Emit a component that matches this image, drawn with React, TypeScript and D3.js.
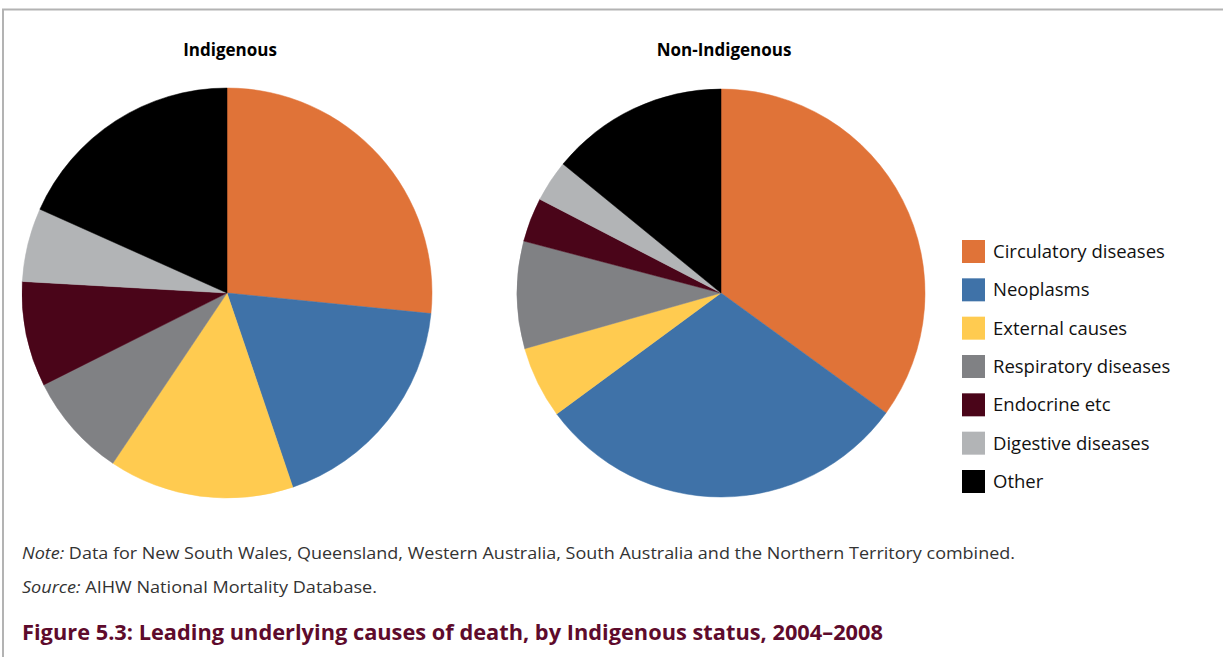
import React from "react";
import * as d3 from "d3";

const categories = [
  "Circulatory diseases",
  "Neoplasms",
  "External causes",
  "Respiratory diseases",
  "Endocrine etc",
  "Digestive diseases",
  "Other",
];
const colors = ["#E07338", "#3F72A8", "#FFCB50", "#808184", "#4A0519", "#B2B4B6", "#000000"];
const indigenousValues = [26.6, 18.2, 14.6, 8.2, 8.3, 5.8, 18.3];
const nonIndigenousValues = [35.0, 29.9, 5.7, 8.5, 3.5, 3.3, 14.1];
const panelTitles = ["Indigenous", "Non-Indigenous"];

const FONT = "'Open Sans', 'Noto Sans', sans-serif";

function Pie({ values, cx, cy, r, title }: { values: number[]; cx: number; cy: number; r: number; title: string }) {
  const pie = d3.pie<number>().sort(null).value((d) => d);
  const arc = d3.arc<d3.PieArcDatum<number>>().innerRadius(0).outerRadius(r);
  const arcs = pie(values);
  return (
    <g>
      <text x={cx + 3} y={56} textAnchor="middle" fontFamily={FONT} fontWeight={700} fontSize={17} fill="#000">
        {title}
      </text>
      <g transform={`translate(${cx},${cy})`}>
        {arcs.map((a, i) => (
          <path key={i} d={arc(a) || ""} fill={colors[i]} stroke={colors[i]} strokeWidth={0.5} />
        ))}
      </g>
    </g>
  );
}

export default function App() {
  const W = 1223;
  const H = 657;
  const legendY = d3.scaleLinear().domain([0, 6]).range([240, 470]);
  return (
    <svg width={W} height={H} style={{ position: "absolute", left: 0, top: 0, background: "#fff" }}>
      <rect x={0} y={0} width={W} height={H} fill="#fff" />
      <path d={`M3,${H} L3,9.5 L${W},9.5`} fill="none" stroke="#b3b3b3" strokeWidth={2} />
      <Pie values={indigenousValues} cx={227} cy={293} r={205} title={panelTitles[0]} />
      <Pie values={nonIndigenousValues} cx={721} cy={293} r={204} title={panelTitles[1]} />
      {categories.map((c, i) => (
        <g key={c}>
          <rect x={962} y={legendY(i)} width={23} height={23} fill={colors[i]} />
          <text x={993} y={legendY(i) + 18} fontFamily={FONT} fontSize={18.5} fill="#111">
            {c}
          </text>
        </g>
      ))}
      <text x={22} y={559} fontFamily={FONT} fontSize={15.5} fill="#333" textLength={993} lengthAdjust="spacingAndGlyphs">
        <tspan fontStyle="italic">Note:</tspan> Data for New South Wales, Queensland, Western Australia, South Australia and the Northern Territory combined.
      </text>
      <text x={22} y={593} fontFamily={FONT} fontSize={15.5} fill="#333" textLength={355} lengthAdjust="spacingAndGlyphs">
        <tspan fontStyle="italic">Source:</tspan> AIHW National Mortality Database.
      </text>
      <text x={22} y={640} fontFamily={FONT} fontSize={21} fontWeight={700} fill="#5E0B2C" textLength={861} lengthAdjust="spacingAndGlyphs">
        Figure 5.3: Leading underlying causes of death, by Indigenous status, 2004–2008
      </text>
    </svg>
  );
}
